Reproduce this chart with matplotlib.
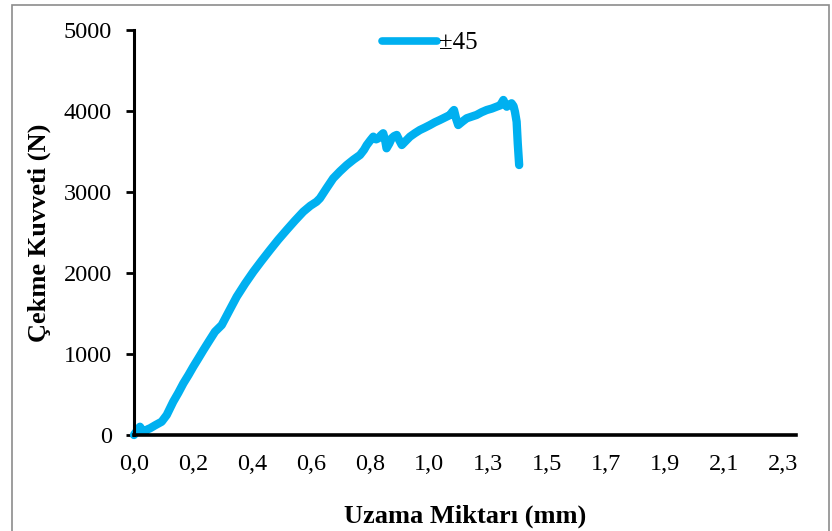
import numpy as np
import matplotlib
matplotlib.use("Agg")
import matplotlib.pyplot as plt
from matplotlib.patches import Rectangle
from matplotlib.lines import Line2D

# Data
elongation_mm = [0.000, 0.004, 0.012, 0.021, 0.030, 0.039, 0.048, 0.057, 0.075, 0.098, 0.116,
                 0.139, 0.157, 0.175, 0.193, 0.210, 0.228, 0.246, 0.266, 0.287, 0.311, 0.337,
                 0.364, 0.394, 0.423, 0.452, 0.482, 0.511, 0.541, 0.570, 0.600, 0.625, 0.647,
                 0.659, 0.683, 0.706, 0.730, 0.754, 0.778, 0.801, 0.815, 0.825, 0.838, 0.848,
                 0.858, 0.866, 0.875, 0.883, 0.890, 0.895, 0.905, 0.913, 0.922, 0.931, 0.940,
                 0.949, 0.963, 0.978, 0.995, 1.013, 1.031, 1.049, 1.066, 1.084, 1.102, 1.120,
                 1.128, 1.134, 1.142, 1.149, 1.164, 1.179, 1.196, 1.214, 1.232, 1.250, 1.268,
                 1.285, 1.298, 1.309, 1.315, 1.321, 1.330, 1.338, 1.345, 1.350, 1.356, 1.360,
                 1.365]
force_N = [0, 21, 60, 102, 55, 41, 70, 83, 120, 164, 247,
           411, 520, 638, 740, 843, 945, 1049, 1160, 1275, 1358, 1530,
           1707, 1870, 2016, 2150, 2284, 2410, 2531, 2645, 2757, 2830, 2880,
           2922, 3050, 3169, 3255, 3333, 3400, 3457, 3520, 3580, 3640, 3683,
           3650, 3663, 3700, 3725, 3640, 3540, 3600, 3663, 3690, 3704, 3640,
           3580, 3630, 3683, 3725, 3765, 3795, 3827, 3860, 3889, 3920, 3951,
           3990, 4012, 3900, 3827, 3870, 3910, 3930, 3951, 3985, 4012, 4030,
           4053, 4070, 4136, 4090, 4053, 4075, 4095, 4060, 3991, 3868, 3600,
           3333]

x_ticks = list(np.linspace(0, 2.3, 12))
x_tick_labels = ["0,0", "0,2", "0,4", "0,6", "0,8", "1,0", "1,3", "1,5", "1,7", "1,9", "2,1", "2,3"]
y_ticks = [0, 1000, 2000, 3000, 4000, 5000]
series_label = "±45"

color = "#00B0F0"
serif = ["Liberation Serif", "DejaVu Serif"]
plt.rcParams['font.family'] = serif

fig = plt.figure(figsize=(8.32, 5.31), dpi=100)
ax = fig.add_axes([134/832, 1-435/531, (796-134)/832, (435-30)/531])

ax.plot(elongation_mm, force_N, color=color, lw=6, solid_capstyle='round',
        solid_joinstyle='round', clip_on=False, zorder=3)

ax.set_xlim(0, 2.3 * 662 / 649)
ax.set_ylim(0, 5000)
ax.set_xticks(x_ticks)
ax.set_xticklabels(x_tick_labels)
ax.set_yticks(y_ticks)
ax.tick_params(axis='x', length=0, pad=14, labelsize=17.5)
ax.tick_params(axis='y', length=6, width=2, pad=10, labelsize=17.5, direction='out')

for s in ['top', 'right']:
    ax.spines[s].set_visible(False)
ax.spines['left'].set_linewidth(2.2)
ax.spines['bottom'].set_linewidth(2.6)
ax.spines['left'].set_zorder(4)
ax.spines['bottom'].set_zorder(4)

ax.set_xlabel("Uzama Miktarı (mm)", fontsize=19, fontweight='bold', labelpad=21)
ax.set_ylabel("Çekme Kuvveti (N)", fontsize=19, fontweight='bold', labelpad=9)

handle = Line2D([0], [0], color=color, lw=5.5, solid_capstyle='round')
leg = fig.legend([handle], [series_label], loc='center', bbox_to_anchor=(430/832, 1-43/531),
                 frameon=False, fontsize=18, handlelength=2.2, handletextpad=0.1,
                 borderpad=0)

fig.patches.append(Rectangle((12/832, -0.02), (829-12)/832, 1.02 - 5/531 + 0.0,
                             transform=fig.transFigure, fill=False,
                             edgecolor='#8c8c8c', lw=1.2))

fig.savefig("out.png", dpi=100)
